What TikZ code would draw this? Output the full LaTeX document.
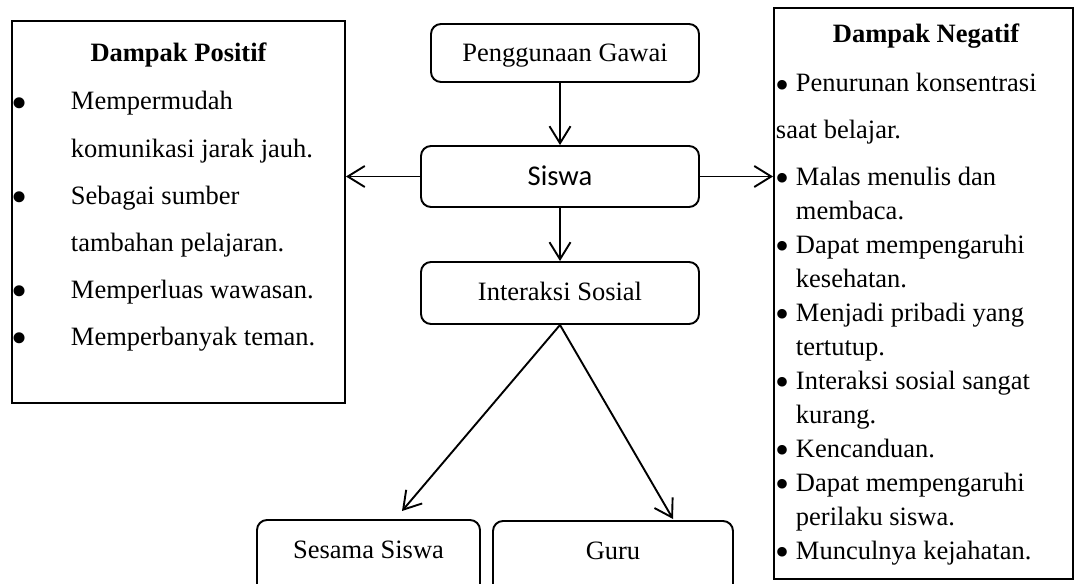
\documentclass[tikz,border=0pt]{standalone}
\usepackage{fontspec}
\setmainfont{Liberation Serif}
\newfontfamily\carlito{Carlito}
\usetikzlibrary{arrows.meta}
\begin{document}
\begin{tikzpicture}[x=1pt,y=-1pt,line width=1.9pt,
  body/.style={font=\fontsize{26.5}{32}\selectfont},
  rbox/.style={draw,rounded corners=10pt,inner sep=0pt,body,text height=18pt,text depth=0pt},
  sbox/.style={draw,inner sep=0pt},
  ln/.style={inner sep=0pt,anchor=base west,body},
  hd/.style={inner sep=0pt,anchor=base,font=\fontsize{26.5}{32}\selectfont\bfseries},
  blr/.style={inner sep=0pt,anchor=center,font=\fontsize{40}{40}\selectfont},
  bll/.style={inner sep=0pt,anchor=center,font=\fontsize{46}{46}\selectfont},
  arr/.style={-{Straight Barb[length=17pt,width=21pt,line width=1.9pt]}}]
\clip (0,0) rectangle (1075,583);
% boxes
\node[rbox,minimum width=268pt,minimum height=58pt] (gawai) at (565,53) {Penggunaan Gawai};
\node[rbox,minimum width=278pt,minimum height=61pt,font=\carlito\fontsize{28.6}{32}\selectfont,text height=18.4pt] (siswa) at (560,176.5) {Siswa};
\node[rbox,minimum width=278pt,minimum height=62pt,text height=14pt] (inter) at (560,293) {Interaksi Sosial};
\node[rbox,minimum width=223pt,minimum height=80pt,text height=18pt,text depth=22pt] (sesama) at (368.5,560) {Sesama Siswa};
\node[rbox,minimum width=240pt,minimum height=80pt,text height=18pt,text depth=22pt] (guru) at (613,561) {Guru};
\node[sbox,minimum width=333pt,minimum height=382pt] (pos) at (178.5,212) {};
\node[sbox,minimum width=299pt,minimum height=571pt] (neg) at (923.5,293.5) {};
% connectors
\coordinate (s1) at (402,511);
\coordinate (g1) at (673,519);
\draw[arr] (siswa.north |- gawai.south) -- (siswa.north);
\draw[arr] (siswa.south) -- (inter.north);
\draw[arr] (siswa.west) -- (siswa.west -| pos.east);
\draw[arr] (siswa.east) -- (siswa.east -| neg.west);
\draw[arr] (inter.south) -- (s1);
\draw[arr] (inter.south) -- (g1);
% left box text
\node[hd] (hp) at (178.5,62) {Dampak Positif};
\node[bll] (pb1) at (20,108) {•};
\node[ln] (p1a) at (70,110) {Mempermudah};
\node[ln] (p1b) at (70,157) {komunikasi jarak jauh.};
\node[bll] (pb2) at (20,202) {•};
\node[ln] (p2a) at (70,204) {Sebagai sumber};
\node[ln] (p2b) at (70,251) {tambahan pelajaran.};
\node[bll] (pb3) at (20,296) {•};
\node[ln] (p3) at (70,298) {Memperluas wawasan.};
\node[bll] (pb4) at (20,343) {•};
\node[ln] (p4) at (70,345) {Memperbanyak teman.};
% right box text
\node[hd] (hn) at (926,43) {Dampak Negatif};
\node[blr] (nb1) at (782,89) {•};
\node[ln] (n1a) at (795,92) {Penurunan konsentrasi};
\node[ln] (n1b) at (775,138) {saat belajar.};
\node[blr] (nb2) at (782,182) {•};
\node[ln] (n2a) at (795,185) {Malas menulis dan};
\node[ln] (n2b) at (795,219) {membaca.};
\node[blr] (nb3) at (782,250) {•};
\node[ln] (n3a) at (795,253) {Dapat mempengaruhi};
\node[ln] (n3b) at (795,287) {kesehatan.};
\node[blr] (nb4) at (782,318) {•};
\node[ln] (n4a) at (795,321) {Menjadi pribadi yang};
\node[ln] (n4b) at (795,355) {tertutup.};
\node[blr] (nb5) at (782,386) {•};
\node[ln] (n5a) at (795,389) {Interaksi sosial sangat};
\node[ln] (n5b) at (795,423) {kurang.};
\node[blr] (nb6) at (782,454) {•};
\node[ln] (n6) at (795,457) {Kencanduan.};
\node[blr] (nb7) at (782,488) {•};
\node[ln] (n7a) at (795,491) {Dapat mempengaruhi};
\node[ln] (n7b) at (795,525) {perilaku siswa.};
\node[blr] (nb8) at (782,556) {•};
\node[ln] (n8) at (795,559) {Munculnya kejahatan.};
\end{tikzpicture}
\end{document}
